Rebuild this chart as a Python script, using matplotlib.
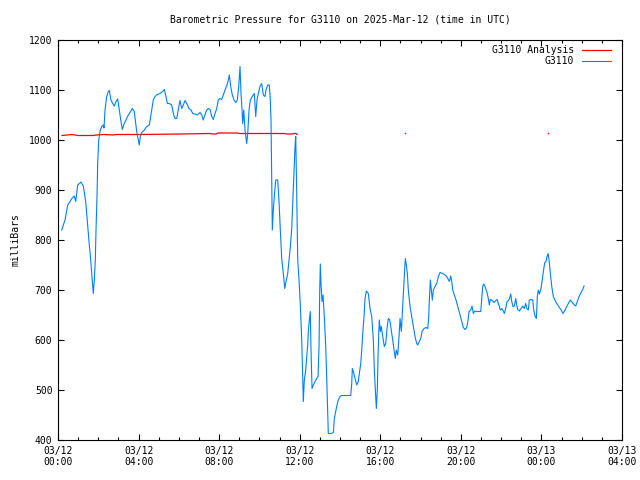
import matplotlib
matplotlib.use("Agg")
import matplotlib.pyplot as plt
from matplotlib.ticker import MultipleLocator, FixedLocator

# Hours since 2025-03-12 00:00 UTC
obs_hours = [0.184, 0.348, 0.482, 0.596, 0.710, 0.809, 0.879, 0.978, 1.142, 1.256, 1.375, 1.455, 1.539, 1.624,
             1.703, 1.753, 1.802, 1.852, 1.887, 1.936, 1.971, 2.021, 2.085, 2.170, 2.249, 2.284, 2.334, 2.418,
             2.497, 2.547, 2.631, 2.716, 2.795, 2.880, 2.964, 3.044, 3.128, 3.192, 3.277, 3.376, 3.490, 3.610,
             3.689, 3.788, 3.858, 3.922, 3.987, 4.037, 4.086, 4.156, 4.285, 4.404, 4.533, 4.652, 4.732, 4.816,
             4.930, 5.064, 5.198, 5.278, 5.347, 5.427, 5.526, 5.645, 5.725, 5.809, 5.893, 5.973, 6.057, 6.142,
             6.221, 6.306, 6.390, 6.504, 6.603, 6.688, 6.802, 6.916, 7.050, 7.135, 7.214, 7.299, 7.383, 7.462,
             7.547, 7.631, 7.711, 7.795, 7.880, 7.959, 8.043, 8.128, 8.207, 8.292, 8.376, 8.455, 8.505, 8.575,
             8.654, 8.738, 8.823, 8.902, 8.972, 9.036, 9.086, 9.136, 9.170, 9.220, 9.285, 9.369, 9.419, 9.483,
             9.548, 9.647, 9.746, 9.816, 9.880, 9.945, 10.029, 10.114, 10.193, 10.278, 10.327, 10.412, 10.491,
             10.541, 10.575, 10.610, 10.640, 10.690, 10.739, 10.809, 10.908, 10.973, 11.037, 11.107, 11.186,
             11.256, 11.320, 11.405, 11.469, 11.534, 11.603, 11.668, 11.717, 11.767, 11.802, 11.851, 11.901,
             11.966, 12.030, 12.100, 12.149, 12.179, 12.229, 12.298, 12.348, 12.398, 12.427, 12.477, 12.527,
             12.561, 12.611, 12.676, 12.760, 12.845, 12.909, 12.959, 12.994, 13.023, 13.058, 13.108, 13.157,
             13.222, 13.291, 13.341, 13.391, 13.420, 13.554, 13.669, 13.718, 13.788, 13.852, 13.917, 14.001,
             14.086, 14.533, 14.582, 14.612, 14.662, 14.746, 14.831, 14.910, 14.960, 15.029, 15.079, 15.128,
             15.193, 15.243, 15.307, 15.406, 15.491, 15.575, 15.655, 15.704, 15.754, 15.804, 15.853, 15.888,
             15.923, 15.953, 16.002, 16.052, 16.121, 16.201, 16.270, 16.335, 16.399, 16.469, 16.533, 16.618,
             16.682, 16.747, 16.797, 16.866, 16.931, 16.980, 17.045, 17.114, 17.164, 17.214, 17.243, 17.293,
             17.343, 17.392, 17.477, 17.561, 17.640, 17.725, 17.809, 17.859, 17.939, 18.008, 18.073, 18.172,
             18.271, 18.356, 18.405, 18.435, 18.485, 18.535, 18.584, 18.634, 18.718, 18.803, 18.882, 18.966,
             19.100, 19.215, 19.299, 19.378, 19.428, 19.498, 19.547, 19.597, 19.676, 19.761, 19.825, 19.895,
             19.959, 20.044, 20.123, 20.208, 20.292, 20.357, 20.406, 20.490, 20.555, 20.620, 20.689, 20.788,
             20.987, 21.037, 21.086, 21.136, 21.201, 21.285, 21.364, 21.414, 21.464, 21.563, 21.647, 21.732,
             21.796, 21.861, 21.911, 21.960, 22.030, 22.094, 22.159, 22.228, 22.293, 22.392, 22.477, 22.526,
             22.591, 22.655, 22.725, 22.775, 22.824, 22.904, 22.988, 23.072, 23.152, 23.221, 23.271, 23.350,
             23.400, 23.484, 23.569, 23.619, 23.683, 23.748, 23.797, 23.847, 23.897, 23.966, 24.031, 24.096,
             24.165, 24.229, 24.279, 24.329, 24.378, 24.443, 24.512, 24.592, 24.676, 24.761, 24.840, 24.924,
             25.009, 25.073, 25.173, 25.257, 25.336, 25.436, 25.535, 25.634, 25.704, 25.783, 25.868, 25.967,
             26.051, 26.116]
obs_mb = [820, 840, 870, 877, 884, 888, 877, 910, 916, 908, 877, 837, 797, 760,
          717, 693, 720, 760, 820, 887, 954, 1000, 1017, 1027, 1030, 1024, 1060, 1087,
          1097, 1099, 1080, 1073, 1068, 1077, 1082, 1060, 1037, 1021, 1032, 1040, 1050, 1057,
          1063, 1057, 1033, 1013, 1000, 990, 1007, 1015, 1020, 1027, 1030, 1060, 1080, 1087,
          1091, 1093, 1097, 1101, 1090, 1073, 1073, 1070, 1053, 1043, 1043, 1060, 1079, 1063,
          1070, 1079, 1073, 1063, 1060, 1053, 1052, 1050, 1055, 1050, 1040, 1051, 1060, 1063,
          1061, 1047, 1041, 1053, 1063, 1080, 1083, 1081, 1090, 1100, 1108, 1120, 1130, 1107,
          1090, 1080, 1075, 1080, 1107, 1147, 1093, 1060, 1033, 1060, 1020, 993, 1013, 1060,
          1080, 1087, 1093, 1047, 1080, 1093, 1107, 1113, 1090, 1087, 1100, 1110, 1110,
          1080, 1040, 913, 820, 860, 887, 920, 920, 877, 820, 763, 733,
          703, 717, 733, 760, 787, 823, 887, 933, 987, 1007, 893, 760,
          720, 670, 600, 520, 477, 520, 540, 567, 590, 617, 640, 657,
          580, 503, 510, 517, 523, 527, 587, 700, 752, 713, 677, 690,
          647, 587, 523, 450, 413, 413, 415, 443, 457, 470, 480, 487,
          489, 489, 513, 543, 537, 523, 510, 517, 533, 553, 580, 613,
          647, 683, 698, 693, 663, 647, 600, 540, 500, 463, 500, 567,
          613, 640, 617, 627, 607, 587, 593, 623, 643, 640, 623, 600,
          580, 563, 580, 570, 607, 643, 617, 670, 707, 743, 763, 750,
          733, 700, 667, 647, 627, 607, 593, 590, 597, 603, 617, 623,
          625, 623, 647, 680, 720, 700, 680, 700, 707, 713, 727, 735,
          733, 730, 727, 721, 717, 728, 717, 700, 690, 680, 670, 660,
          650, 637, 625, 621, 625, 640, 657, 660, 668, 653, 658, 657,
          657, 683, 707, 712, 707, 697, 683, 670, 681, 679, 675, 679,
          681, 673, 667, 660, 663, 659, 653, 663, 677, 680, 692, 677,
          667, 668, 683, 670, 661, 658, 663, 668, 663, 673, 663, 660,
          680, 681, 680, 660, 648, 643, 687, 700, 692, 700, 717, 737,
          755, 757, 767, 773, 760, 733, 707, 687, 679, 673, 668, 663,
          658, 653, 660, 667, 673, 680, 675, 670, 668, 677, 687, 695,
          701, 708]

ana_hours = [0.199, 0.695, 0.993, 1.738, 1.887, 2.284, 2.731, 2.880, 4.071, 6.057, 7.547, 7.696,
             7.845, 7.944, 8.887, 9.036, 11.271, 11.370, 11.618, 11.717, 11.817, 11.866]
ana_mb = [1009, 1011, 1009, 1009, 1010, 1011, 1010, 1011, 1011, 1012, 1013, 1012,
          1012, 1014, 1014, 1013, 1013, 1012, 1012, 1013, 1013, 1011]
ana_iso_hours = [17.229, 24.344]
ana_iso_mb = [1014, 1014]

xtick_hours = [0, 4, 8, 12, 16, 20, 24, 28]
xtick_labels = ["03/12\n00:00", "03/12\n04:00", "03/12\n08:00", "03/12\n12:00",
                "03/12\n16:00", "03/12\n20:00", "03/13\n00:00", "03/13\n04:00"]

plt.rcParams['font.family'] = ['DejaVu Sans Mono']
plt.rcParams['font.size'] = 7

fig = plt.figure(figsize=(6.4, 4.8), dpi=100)
ax = fig.add_axes([58/640, 1 - 440/480, (622 - 58)/640, 400/480])

ax.plot(ana_hours, ana_mb, color='#ff0000', lw=0.9, label='G3110 Analysis')
ax.plot(ana_iso_hours, ana_iso_mb, ls='none', marker='s', ms=1.0, color='#ff0000', mew=0)
ax.plot(obs_hours, obs_mb, color='#0080ff', lw=0.8, label='G3110')

ax.set_xlim(0, 28)
ax.set_ylim(400, 1200)
ax.xaxis.set_major_locator(FixedLocator(xtick_hours))
ax.set_xticklabels(xtick_labels)
ax.xaxis.set_minor_locator(MultipleLocator(1))
ax.yaxis.set_major_locator(MultipleLocator(100))
ax.tick_params(which='both', direction='in', top=True, right=True, color='black')
ax.tick_params(which='major', length=4.5, width=0.8, pad=4)
ax.tick_params(which='minor', length=2.3, width=0.8)
for s in ax.spines.values():
    s.set_linewidth(0.8)

ax.set_ylabel('milliBars', labelpad=6)
fig.text(340/640, 1 - 20/480, 'Barometric Pressure for G3110 on 2025-Mar-12 (time in UTC)',
         ha='center', va='center')

leg = ax.legend(loc='upper right', bbox_to_anchor=(0.991, 1.002), frameon=False, markerfirst=False,
                handlelength=3.0, borderaxespad=0.2, labelspacing=0.15, handletextpad=0.8)
for t in leg.get_texts():
    t.set_ha('right')

fig.savefig('out.png', dpi=100)
